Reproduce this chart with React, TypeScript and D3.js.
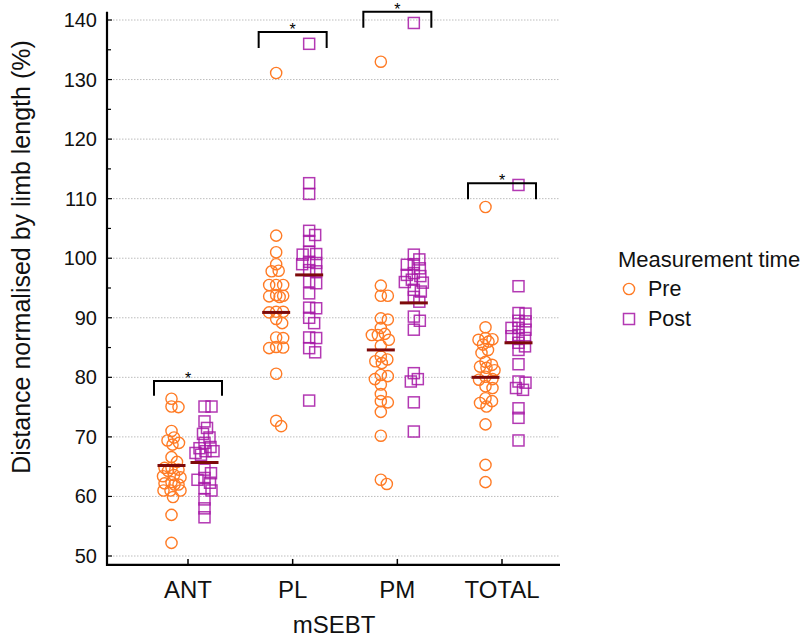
import React from "react";
import * as d3 from "d3";

const categories = ["ANT", "PL", "PM", "TOTAL"];
const seriesNames = ["Pre", "Post"];

const antPre = [76.4, 75.0, 75.1, 71.0, 69.9, 69.4, 69.0, 68.7, 66.6, 65.8, 64.8, 64.5, 64.8, 64.3, 63.4, 63.6, 63.2, 62.0, 62.4, 62.0, 62.2, 61.0, 61.0, 61.0, 59.9, 56.9, 52.2];
const antPost = [75.1, 75.1, 72.6, 71.5, 70.5, 69.9, 69.0, 68.3, 68.1, 67.6, 67.6, 67.0, 67.3, 64.5, 63.9, 63.1, 62.8, 62.3, 61.0, 61.4, 59.5, 58.0, 56.5];
const plPre = [131.1, 103.8, 101.0, 99.0, 97.9, 97.8, 95.5, 95.5, 95.5, 93.7, 93.6, 93.8, 93.5, 91.0, 91.0, 90.9, 89.1, 89.8, 86.6, 86.7, 84.9, 85.0, 85.1, 80.6, 72.7, 71.8];
const plPost = [136.0, 112.6, 110.8, 104.6, 103.9, 102.9, 100.6, 100.7, 101.1, 99.0, 99.2, 99.4, 98.0, 97.8, 95.8, 96.1, 94.1, 91.6, 91.7, 90.0, 89.1, 86.6, 86.7, 84.9, 84.2, 76.1];
const pmPre = [133.0, 95.4, 93.7, 93.7, 89.7, 89.9, 88.3, 87.1, 87.3, 87.1, 86.3, 85.3, 83.5, 83.0, 82.7, 82.4, 80.4, 80.2, 79.7, 78.8, 77.2, 76.0, 75.8, 74.2, 70.2, 62.1, 62.8];
const pmPost = [139.5, 100.6, 99.8, 99.0, 98.9, 98.3, 97.0, 97.2, 97.5, 96.0, 95.9, 96.4, 94.4, 94.7, 93.5, 92.7, 89.5, 90.2, 88.0, 80.7, 79.3, 79.7, 75.8, 70.9];
const totalPre = [108.6, 88.4, 86.0, 86.4, 86.3, 86.6, 85.5, 84.6, 84.1, 82.6, 82.1, 81.8, 81.6, 81.2, 79.6, 79.7, 80.1, 78.2, 78.5, 76.5, 76.0, 75.1, 75.7, 72.1, 65.3, 62.4];
const totalPost = [112.3, 95.3, 90.8, 90.7, 89.5, 89.4, 88.3, 88.3, 88.0, 87.1, 86.9, 86.6, 85.8, 85.2, 84.6, 82.2, 79.3, 79.1, 78.2, 77.9, 74.8, 73.2, 69.4];

const preValues = [antPre, plPre, pmPre, totalPre];
const postValues = [antPost, plPost, pmPost, totalPost];
const preMean = [65.2, 90.9, 84.6, 80.0];
const postMean = [65.7, 97.2, 92.5, 85.8];
const bracketTop = [79.4, 138.0, 141.4, 112.6];
const bracketDrop = [76.9, 135.3, 138.7, 109.9];
const bracketLabel = ["*", "*", "*", "*"];

const yTicks = [50, 60, 70, 80, 90, 100, 110, 120, 130, 140];
const yMinorTicks = [55, 65, 75, 85, 95, 105, 115, 125, 135];

const FONT = "'Liberation Sans', Arial, Helvetica, sans-serif";
const ORANGE = "#ff7b25";
const PURPLE = "#a616a6";
const MEANCOL = "#7d0a0a";

const y = d3.scaleLinear().domain([50, 140]).range([556, 20]);
const x = d3.scalePoint<string>().domain(categories).range([188, 502]);
const dodge = d3.scalePoint<string>().domain(seriesNames).range([-16.5, 16.5]);

const axisLeft = 107;
const axisRight = 560;
const axisBottomY = y(48.5);
const axisTopY = y(141.4);

function swarm(values: number[], cx: number) {
  const minDist = 7;
  const maxOff = 9;
  const pts = values
    .map((v) => ({ v, py: y(v), px: cx }))
    .sort((a, b) => a.py - b.py);
  const placed: { px: number; py: number; v: number }[] = [];
  const cands: number[] = [];
  for (let o = 0; o <= maxOff; o += 0.5) {
    cands.push(o);
    if (o > 0) cands.push(-o);
  }
  for (const p of pts) {
    let best = 0;
    let bestScore = -1;
    for (const o of cands) {
      let md = Infinity;
      for (const q of placed) {
        const d = Math.hypot(cx + o - q.px, p.py - q.py);
        if (d < md) md = d;
      }
      if (md >= minDist) {
        best = o;
        break;
      }
      if (md > bestScore) {
        bestScore = md;
        best = o;
      }
    }
    p.px = cx + best;
    placed.push(p);
  }
  return placed;
}

export default function App() {
  const r = 5.6;
  const s = 11;
  return (
    <svg
      width={803}
      height={639}
      viewBox="0 0 803 639"
      style={{ position: "absolute", left: 0, top: 0, background: "#fff" }}
      fontFamily={FONT}
    >
      {/* gridlines */}
      {yTicks.map((t) => (
        <line
          key={"g" + t}
          x1={axisLeft}
          x2={axisRight}
          y1={y(t)}
          y2={y(t)}
          stroke="#bdbdbd"
          strokeWidth={1}
          strokeDasharray="1.5,1.5"
        />
      ))}
      {/* y ticks */}
      {yTicks.map((t) => (
        <g key={"t" + t}>
          <line x1={axisLeft} x2={axisLeft + 5} y1={y(t)} y2={y(t)} stroke="#000" strokeWidth={1.2} />
          <text x={97} y={y(t) + 7} textAnchor="end" fontSize={20} fill="#111">
            {t}
          </text>
        </g>
      ))}
      {yMinorTicks.map((t) => (
        <line key={"m" + t} x1={axisLeft} x2={axisLeft + 4} y1={y(t)} y2={y(t)} stroke="#000" strokeWidth={1.2} />
      ))}
      {/* x ticks */}
      {categories.map((c) => (
        <g key={"x" + c}>
          <line x1={x(c)} x2={x(c)} y1={axisBottomY} y2={axisBottomY - 6} stroke="#000" strokeWidth={1.5} />
          <text x={x(c)} y={598} textAnchor="middle" fontSize={24} fill="#111">
            {c}
          </text>
        </g>
      ))}
      {/* axes */}
      <line x1={axisLeft} x2={axisLeft} y1={axisTopY} y2={axisBottomY + 1} stroke="#000" strokeWidth={2.2} />
      <line x1={axisLeft - 1} x2={axisRight} y1={axisBottomY} y2={axisBottomY} stroke="#000" strokeWidth={2.2} />

      {/* points */}
      {categories.map((c, i) => {
        const pre = swarm(preValues[i], (x(c) as number) + (dodge("Pre") as number));
        const post = swarm(postValues[i], (x(c) as number) + (dodge("Post") as number));
        return (
          <g key={"p" + c}>
            {pre.map((p, j) => (
              <circle key={j} cx={p.px} cy={p.py} r={r} fill="none" stroke={ORANGE} strokeWidth={1.4} />
            ))}
            {post.map((p, j) => (
              <rect
                key={j}
                x={p.px - s / 2}
                y={p.py - s / 2}
                width={s}
                height={s}
                fill="none"
                stroke={PURPLE}
                strokeWidth={1.5}
                strokeOpacity={0.85}
              />
            ))}
          </g>
        );
      })}
      {/* mean lines */}
      {categories.map((c, i) => (
        <g key={"mn" + c}>
          <line
            x1={(x(c) as number) + (dodge("Pre") as number) - 14}
            x2={(x(c) as number) + (dodge("Pre") as number) + 14}
            y1={y(preMean[i])}
            y2={y(preMean[i])}
            stroke={MEANCOL}
            strokeWidth={3}
          />
          <line
            x1={(x(c) as number) + (dodge("Post") as number) - 14}
            x2={(x(c) as number) + (dodge("Post") as number) + 14}
            y1={y(postMean[i])}
            y2={y(postMean[i])}
            stroke={MEANCOL}
            strokeWidth={3}
          />
        </g>
      ))}
      {/* brackets */}
      {categories.map((c, i) => {
        const cx = x(c) as number;
        const x1 = cx - 34;
        const x2 = cx + 34;
        const yt = y(bracketTop[i]);
        const yb = y(bracketDrop[i]);
        return (
          <g key={"b" + c}>
            <path
              d={`M${x1},${yb}L${x1},${yt}L${x2},${yt}L${x2},${yb}`}
              fill="none"
              stroke="#000"
              strokeWidth={2}
            />
            <text x={cx} y={yt + 3} textAnchor="middle" fontSize={16} fill="#000">
              {bracketLabel[i]}
            </text>
          </g>
        );
      })}
      {/* axis titles */}
      <text
        transform={`translate(30,${257}) rotate(-90)`}
        textAnchor="middle"
        fontSize={25}
        fill="#111"
      >
        Distance normalised by limb length (%)
      </text>
      <text x={334} y={633} textAnchor="middle" fontSize={24} fill="#111">
        mSEBT
      </text>
      {/* legend */}
      <text x={618} y={267} fontSize={22} fill="#111">
        Measurement time
      </text>
      <circle cx={629} cy={289} r={5.6} fill="none" stroke={ORANGE} strokeWidth={1.4} />
      <text x={648} y={296} fontSize={21.5} fill="#111">
        Pre
      </text>
      <rect x={629 - 5.5} y={319 - 5.5} width={11} height={11} fill="none" stroke={PURPLE} strokeWidth={1.5} strokeOpacity={0.85} />
      <text x={648} y={326} fontSize={21.5} fill="#111">
        Post
      </text>
    </svg>
  );
}
